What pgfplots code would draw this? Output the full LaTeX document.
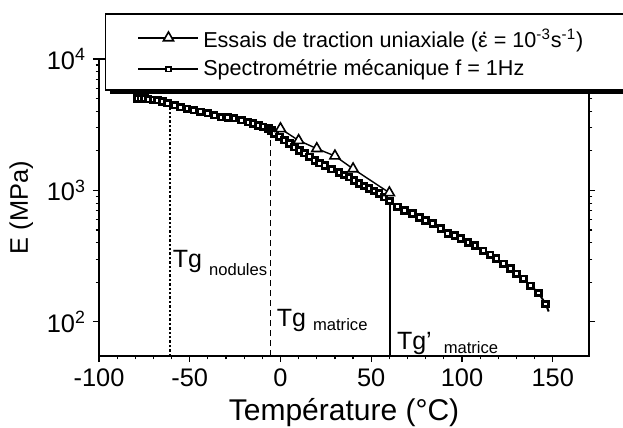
\documentclass[border=0pt]{standalone}
\usepackage{fontspec}
\setmainfont{Liberation Sans}
\usepackage{pgfplots}
\pgfplotsset{compat=1.18}
\pgfdeclarelayer{background}
\pgfsetlayers{background,main}

\pgfplotstableread{
T E
-79 5000
-77 5000
-75 4990
-73 4950
-70 4900
-67.8 4860
-65 4750
-62.2 4610
-58.5 4450
-55 4300
-51.5 4180
-47.8 4080
-44 3970
-40 3870
-36.5 3740
-32.8 3610
-29 3580
-25.6 3550
-21.5 3420
-17.8 3310
-15 3220
-12.2 3130
-9.5 3050
-6.7 2970
-5 2850
-3.3 2720
-0.5 2560
2.2 2410
5 2270
7.8 2130
10.5 2020
13.3 1920
16 1800
18.9 1690
21.5 1610
24.4 1550
28 1450
32.2 1370
35 1310
37.8 1260
40.5 1190
43.3 1130
46 1080
48.9 1035
51.5 990
54.4 950
57 890
60 830
64.4 750
68.3 703
72.8 667
76.7 622
80 590
83.9 560
88.3 513
92.2 470
96.1 453
99.4 430
103.3 401
107.2 380
111.7 348
115.6 324
118.9 303
122.8 277
126.7 254
130 232
133.9 213
137.8 188
142.2 166
146.1 137
}\spectro

\pgfplotstableread{
T E
0 2950
10 2400
20 2080
30 1830
40 1460
60 960
}\traction

\begin{document}
\begin{tikzpicture}
\begin{axis}[
  scale only axis, width=245pt, height=148.5pt,
  xmin=-100, xmax=170, ymode=log, ymin=55, ymax=10000,
  xtick={-100,-50,0,50,100,150},
  xticklabels={-100,-50,0,50,100,150},
  minor x tick num=4,
  ytick={100,1000,10000},
  yticklabels={10\textsuperscript{2},10\textsuperscript{3},10\textsuperscript{4}},
  tick align=outside, xtick pos=lower,
  major tick length=3pt, minor tick length=1.7pt,
  every tick/.style={black, line width=0.6pt},
  axis line style={line width=0.75pt},
  tick label style={font=\fontsize{12.7}{15}\selectfont},
  xlabel style={font=\fontsize{15}{17}\selectfont, yshift=1pt},
  ylabel style={font=\fontsize{12.7}{15}\selectfont},
  xlabel={Température (°C)},
  ylabel={E (MPa)},
  legend cell align=left,
  legend style={name=mylegend, at={(0.012,1)}, anchor=north west, yshift=23pt,
    draw=black, line width=0.8pt, fill=white, inner xsep=16pt, inner ysep=3.5pt,
    font=\fontsize{10.8}{12}\selectfont, row sep=0.5pt},
  legend image code/.code={\draw[mark repeat=2,mark phase=2,#1] plot coordinates {(0pt,0pt) (15pt,0pt) (30pt,0pt)};},
]
\addlegendimage{black, line width=0.7pt, mark=triangle*, mark size=2.9pt, mark options={fill=white, line width=0.8pt}}
\addlegendentry{\rule{0pt}{11.5pt}Essais de traction uniaxiale (\makebox[0pt][l]{\hspace{0.15em}\raisebox{0.62em}{.}}ε = 10\textsuperscript{-3}s\textsuperscript{-1})\hspace*{40pt}}
\addlegendimage{black, line width=0.8pt, mark=square*, mark size=1.1pt, mark options={fill=white, line width=0.9pt}}
\addlegendentry{Spectrométrie mécanique f = 1Hz}

\addplot[black, line width=0.9pt, dash pattern=on 1.2pt off 1pt, forget plot] coordinates {(-61,55) (-61,4460)};
\addplot[black, line width=0.9pt, dash pattern=on 3pt off 2pt, forget plot] coordinates {(-5.5,55) (-5.5,2850)};
\addplot[black, line width=0.9pt, forget plot] coordinates {(60.5,55) (60.5,830)};

\addplot[black, line width=1pt, forget plot] coordinates {(146.1,137) (147.8,120)};
\addplot[black, line width=1pt, mark=square*, mark size=1.4pt, mark options={fill=white, line width=1.4pt}, forget plot] table[x=T, y=E] {\spectro};
\addplot[black, line width=0.7pt, mark=triangle*, mark size=2.9pt, mark options={fill=white, line width=0.8pt}, forget plot] table[x=T, y=E] {\traction};

\node[anchor=base west, inner sep=0pt, font=\fontsize{12.5}{14}\selectfont] at (axis cs:-59.5,258) {Tg\hspace{3.5pt}\raisebox{-4pt}{\fontsize{8.3}{10}\selectfont nodules}};
\node[anchor=base west, inner sep=0pt, font=\fontsize{12.5}{14}\selectfont] at (axis cs:-2.2,93) {Tg\hspace{3.5pt}\raisebox{-2pt}{\fontsize{8.3}{10}\selectfont matrice}};
\node[anchor=base west, inner sep=0pt, font=\fontsize{12.5}{14}\selectfont] at (axis cs:64,62) {Tg'\hspace{6pt}\raisebox{-2pt}{\fontsize{8.3}{10}\selectfont matrice}};
\end{axis}
\begin{pgfonlayer}{background}
\fill[black] ([shift={(2.5pt,-1.8pt)}]mylegend.south west) rectangle ([shift={(2.5pt,-1.8pt)}]mylegend.north east);
\end{pgfonlayer}
\pgfresetboundingbox
\path ([shift={(-49.5pt,-35.5pt)}]current axis.south west) rectangle ([shift={(17pt,29.5pt)}]current axis.north east);
\end{tikzpicture}
\end{document}
